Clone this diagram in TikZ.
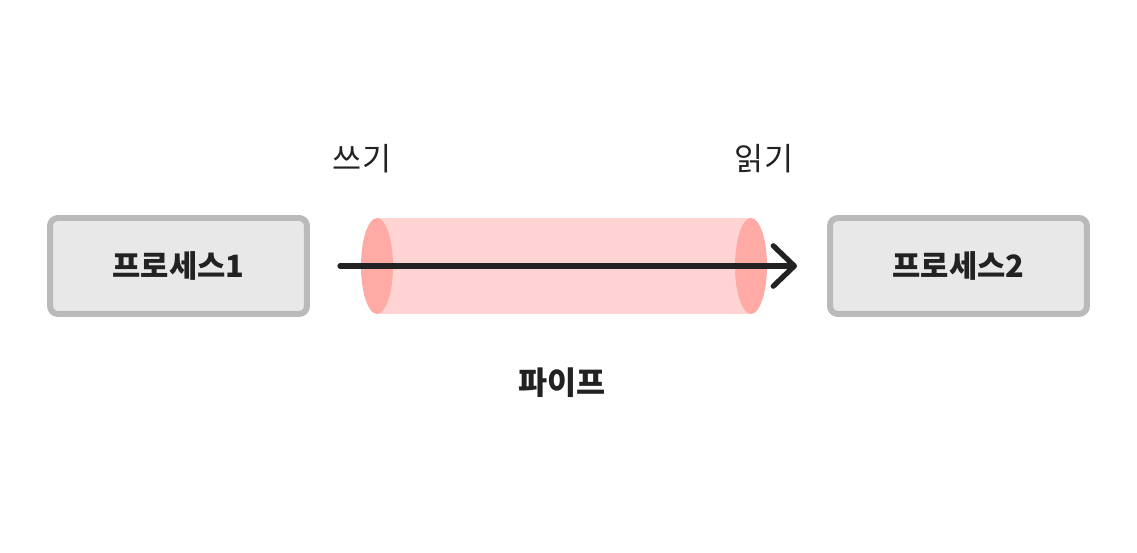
\documentclass[tikz,border=0pt]{standalone}
\usepackage{fontspec}
\setmainfont{Noto Sans CJK KR}
\usetikzlibrary{arrows.meta,positioning,calc}
\colorlet{boxfill}{gray!18}
\colorlet{boxline}{gray!54}
\definecolor{pipelt}{HTML}{FFD4D2}
\definecolor{pipedk}{HTML}{FFAAA4}
\definecolor{ink}{HTML}{222222}
\tikzset{
  proc/.style   = { draw=boxline, fill=boxfill, line width=3.4pt, rounded corners=4.5pt,
    minimum width=5.14cm, minimum height=1.92cm, font=\fontsize{17.5}{20}\selectfont\bfseries, text=ink },
  lbl/.style    = { font=\fontsize{18}{20}\selectfont, text=ink, inner sep=0pt },
  pipelbl/.style= { lbl, font=\fontsize{18}{20}\selectfont\bfseries },
  flow/.style   = { draw=ink, line width=3pt, line cap=round,
    -{Straight Barb[length=12pt,width=23pt,line cap=round,line join=round]} }
}
\begin{document}
\begin{tikzpicture}[x=0.02cm,y=-0.02cm]
      \useasboundingbox (0,0) rectangle (1137,553);
      % processes
      \node[proc] (p1) at (178.5,266) {프로세스1};
      \node[proc] (p2) at (958.5,266) {프로세스2};
      % pipe
      \fill[pipelt] (377,218) rectangle (751,314);
      \fill[pipedk] (377,266) ellipse (0.32cm and 0.96cm);
      \fill[pipedk] (751,266) ellipse (0.32cm and 0.96cm);
      \coordinate (wr) at (340,266);
      \coordinate (rd) at (797,266);
      \draw[flow] (wr) -- (rd);
      \node[lbl] (w) at (362,159) {쓰기};
      \node[lbl] (r) at (764,159) {읽기};
      \node[pipelbl] (pp) at (562,383) {파이프};
\end{tikzpicture}
\end{document}
